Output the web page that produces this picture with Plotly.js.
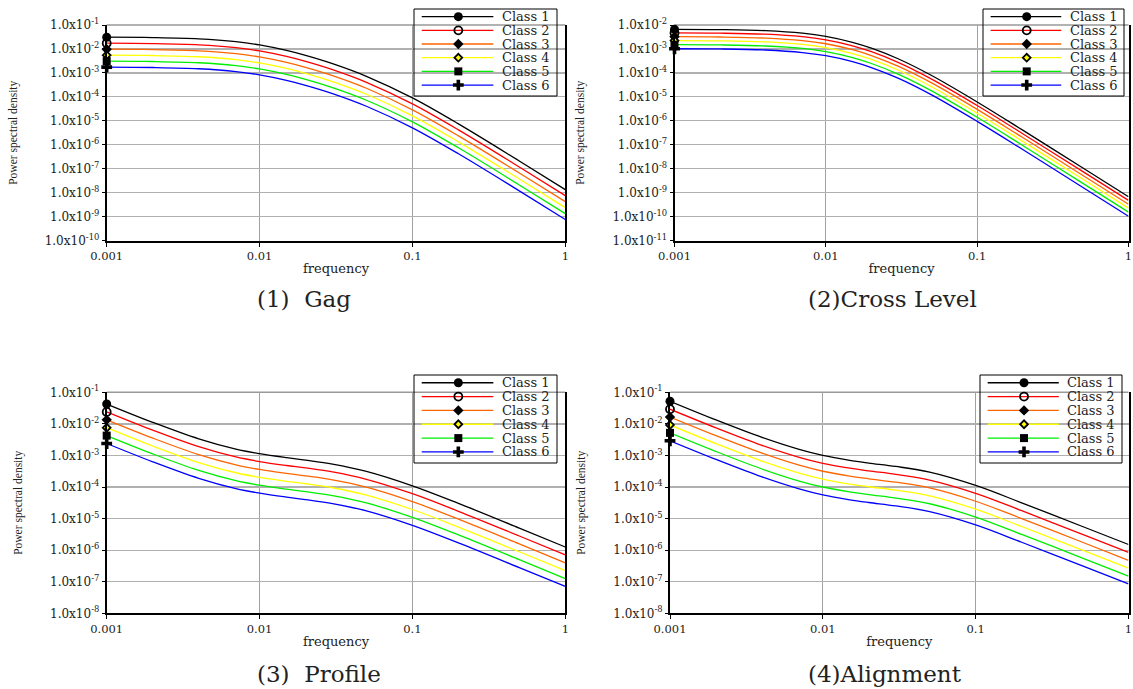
<!DOCTYPE html>
<html>
<head>
<meta charset="utf-8">
<script src="https://cdn.plot.ly/plotly-3.0.1.min.js"></script>
<style>
html,body{margin:0;padding:0;background:#fff;}
#chart{width:1133px;height:689px;}
</style>
</head>
<body>
<div id="chart"></div>
<script>
// ---------------- data ----------------
const freq = [0.001, 0.002, 0.004, 0.007, 0.01, 0.015, 0.02, 0.03, 0.05, 0.1, 0.2, 0.5, 1];
const classNames = ['Class 1', 'Class 2', 'Class 3', 'Class 4', 'Class 5', 'Class 6'];
const captions = ['(1)\u00a0\u00a0Gag', '(2)Cross Level', '(3)\u00a0\u00a0Profile', '(4)Alignment'];
const xTickVals = [0.001, 0.01, 0.1, 1];
const xTickText = ['0.001', '0.01', '0.1', '1'];
const xTitle = 'frequency';
const yTitle = 'Power spectral density';

// (1) Gag
const gag1 = [3.09e-2, 2.99e-2, 2.65e-2, 2.02e-2, 1.47e-2, 8.67e-3, 5.38e-3, 2.43e-3, 7.21e-4, 9.03e-5, 7.43e-6, 2.09e-7, 1.33e-8];
const gag2 = [1.74e-2, 1.68e-2, 1.49e-2, 1.14e-2, 8.27e-3, 4.88e-3, 3.03e-3, 1.37e-3, 4.05e-4, 5.08e-5, 4.18e-6, 1.18e-7, 7.48e-9];
const gag3 = [9.77e-3, 9.45e-3, 8.38e-3, 6.39e-3, 4.65e-3, 2.74e-3, 1.70e-3, 7.68e-4, 2.28e-4, 2.86e-5, 2.35e-6, 6.61e-8, 4.21e-9];
const gag4 = [5.49e-3, 5.32e-3, 4.71e-3, 3.59e-3, 2.61e-3, 1.54e-3, 9.57e-4, 4.32e-4, 1.28e-4, 1.61e-5, 1.32e-6, 3.72e-8, 2.36e-9];
const gag5 = [3.09e-3, 2.99e-3, 2.65e-3, 2.02e-3, 1.47e-3, 8.67e-4, 5.38e-4, 2.43e-4, 7.21e-5, 9.03e-6, 7.43e-7, 2.09e-8, 1.33e-9];
const gag6 = [1.74e-3, 1.68e-3, 1.49e-3, 1.14e-3, 8.27e-4, 4.88e-4, 3.03e-4, 1.37e-4, 4.05e-5, 5.08e-6, 4.18e-7, 1.18e-8, 7.48e-10];
const yTickValsGag = [1e-10, 1e-9, 1e-8, 1e-7, 1e-6, 1e-5, 1e-4, 1e-3, 1e-2, 1e-1];
const yTickTextGag = ['1.0x10<sup>-10</sup>', '1.0x10<sup>-9</sup>', '1.0x10<sup>-8</sup>', '1.0x10<sup>-7</sup>', '1.0x10<sup>-6</sup>', '1.0x10<sup>-5</sup>', '1.0x10<sup>-4</sup>', '1.0x10<sup>-3</sup>', '1.0x10<sup>-2</sup>', '1.0x10<sup>-1</sup>'];

// (2) Cross Level
const cross1 = [6.61e-3, 6.44e-3, 5.82e-3, 4.57e-3, 3.36e-3, 1.90e-3, 1.08e-3, 3.90e-4, 7.78e-5, 6.12e-6, 4.07e-7, 1.06e-8, 6.67e-10];
const cross2 = [4.68e-3, 4.56e-3, 4.12e-3, 3.24e-3, 2.38e-3, 1.35e-3, 7.65e-4, 2.76e-4, 5.51e-5, 4.33e-6, 2.88e-7, 7.50e-9, 4.72e-10];
const cross3 = [3.24e-3, 3.16e-3, 2.85e-3, 2.24e-3, 1.65e-3, 9.31e-4, 5.29e-4, 1.91e-4, 3.81e-5, 3.00e-6, 1.99e-7, 5.19e-9, 3.27e-10];
const cross4 = [2.24e-3, 2.18e-3, 1.97e-3, 1.55e-3, 1.14e-3, 6.44e-4, 3.66e-4, 1.32e-4, 2.64e-5, 2.07e-6, 1.38e-7, 3.59e-9, 2.26e-10];
const cross5 = [1.51e-3, 1.47e-3, 1.33e-3, 1.05e-3, 7.69e-4, 4.35e-4, 2.47e-4, 8.93e-5, 1.78e-5, 1.40e-6, 9.32e-8, 2.43e-9, 1.53e-10];
const cross6 = [1.02e-3, 9.98e-4, 9.02e-4, 7.08e-4, 5.21e-4, 2.95e-4, 1.67e-4, 6.05e-5, 1.21e-5, 9.49e-7, 6.31e-8, 1.64e-9, 1.03e-10];
const yTickValsCross = [1e-11, 1e-10, 1e-9, 1e-8, 1e-7, 1e-6, 1e-5, 1e-4, 1e-3, 1e-2];
const yTickTextCross = ['1.0x10<sup>-11</sup>', '1.0x10<sup>-10</sup>', '1.0x10<sup>-9</sup>', '1.0x10<sup>-8</sup>', '1.0x10<sup>-7</sup>', '1.0x10<sup>-6</sup>', '1.0x10<sup>-5</sup>', '1.0x10<sup>-4</sup>', '1.0x10<sup>-3</sup>', '1.0x10<sup>-2</sup>'];

// (3) Profile
const profile1 = [4.25e-2, 1.12e-2, 3.36e-3, 1.59e-3, 1.14e-3, 8.53e-4, 7.13e-4, 5.33e-4, 3.13e-4, 1.09e-4, 3.03e-5, 5.00e-6, 1.26e-6];
const profile2 = [2.39e-2, 6.30e-3, 1.89e-3, 8.94e-4, 6.41e-4, 4.80e-4, 4.01e-4, 3.00e-4, 1.76e-4, 6.13e-5, 1.70e-5, 2.81e-6, 7.08e-7];
const profile3 = [1.34e-2, 3.54e-3, 1.06e-3, 5.03e-4, 3.60e-4, 2.70e-4, 2.25e-4, 1.69e-4, 9.90e-5, 3.45e-5, 9.58e-6, 1.58e-6, 3.98e-7];
const profile4 = [7.56e-3, 1.99e-3, 5.97e-4, 2.83e-4, 2.03e-4, 1.52e-4, 1.27e-4, 9.48e-5, 5.57e-5, 1.94e-5, 5.39e-6, 8.89e-7, 2.24e-7];
const profile5 = [4.25e-3, 1.12e-3, 3.36e-4, 1.59e-4, 1.14e-4, 8.53e-5, 7.13e-5, 5.33e-5, 3.13e-5, 1.09e-5, 3.03e-6, 5.00e-7, 1.26e-7];
const profile6 = [2.39e-3, 6.30e-4, 1.89e-4, 8.94e-5, 6.41e-5, 4.80e-5, 4.01e-5, 3.00e-5, 1.76e-5, 6.13e-6, 1.70e-6, 2.81e-7, 7.08e-8];
const yTickValsProfile = [1e-8, 1e-7, 1e-6, 1e-5, 1e-4, 1e-3, 1e-2, 1e-1];
const yTickTextProfile = ['1.0x10<sup>-8</sup>', '1.0x10<sup>-7</sup>', '1.0x10<sup>-6</sup>', '1.0x10<sup>-5</sup>', '1.0x10<sup>-4</sup>', '1.0x10<sup>-3</sup>', '1.0x10<sup>-2</sup>', '1.0x10<sup>-1</sup>'];

// (4) Alignment
const align1 = [5.19e-2, 1.33e-2, 3.72e-3, 1.55e-3, 1.00e-3, 7.00e-4, 5.75e-4, 4.48e-4, 2.95e-4, 1.12e-4, 3.16e-5, 5.62e-6, 1.51e-6];
const align2 = [2.92e-2, 7.48e-3, 2.09e-3, 8.72e-4, 5.62e-4, 3.94e-4, 3.23e-4, 2.52e-4, 1.66e-4, 6.30e-5, 1.78e-5, 3.16e-6, 8.49e-7];
const align3 = [1.64e-2, 4.21e-3, 1.18e-3, 4.90e-4, 3.16e-4, 2.21e-4, 1.82e-4, 1.42e-4, 9.33e-5, 3.54e-5, 1.00e-5, 1.78e-6, 4.77e-7];
const align4 = [9.23e-3, 2.36e-3, 6.61e-4, 2.76e-4, 1.78e-4, 1.24e-4, 1.02e-4, 7.97e-5, 5.25e-5, 1.99e-5, 5.62e-6, 1.00e-6, 2.68e-7];
const align5 = [5.19e-3, 1.33e-3, 3.72e-4, 1.55e-4, 1.00e-4, 7.00e-5, 5.75e-5, 4.48e-5, 2.95e-5, 1.12e-5, 3.16e-6, 5.62e-7, 1.51e-7];
const align6 = [2.92e-3, 7.48e-4, 2.09e-4, 8.72e-5, 5.62e-5, 3.94e-5, 3.23e-5, 2.52e-5, 1.66e-5, 6.30e-6, 1.78e-6, 3.16e-7, 8.49e-8];
const yTickValsAlign = yTickValsProfile;
const yTickTextAlign = yTickTextProfile;

// ---------------- styles ----------------
const classColors = ['#000000', '#ff0000', '#ff6600', '#ffff00', '#00ee00', '#0000ff'];
function markerStyle(i) {
  const styles = [
    {symbol: 'circle', size: 9, color: '#000'},
    {symbol: 'circle-open', size: 8, color: '#000', line: {width: 1.8}},
    {symbol: 'diamond', size: 8, color: '#000'},
    {symbol: 'diamond', size: 6, color: '#ffff00', line: {color: '#000', width: 1.8}},
    {symbol: 'square', size: 8, color: '#000'},
    {symbol: 'cross', size: 9, color: '#000'}
  ];
  return styles[i];
}

const W = 1133, H = 689;
const px = x => x / W;
const py = y => 1 - y / H;

const panels = [
  {series: [gag1, gag2, gag3, gag4, gag5, gag6], tv: yTickValsGag, tt: yTickTextGag, yr: [-10, -1],
   plot: [106.7, 565.3, 25, 240.5], legend: [414, 557, 9, 96], cap: [255, 299]},
  {series: [cross1, cross2, cross3, cross4, cross5, cross6], tv: yTickValsCross, tt: yTickTextCross, yr: [-11, -2],
   plot: [674.5, 1128.5, 25, 240.5], legend: [983, 1124, 9, 96], cap: [806, 299]},
  {series: [profile1, profile2, profile3, profile4, profile5, profile6], tv: yTickValsProfile, tt: yTickTextProfile, yr: [-8, -1],
   plot: [106.7, 565.3, 392.3, 613.3], legend: [414, 557, 375, 463], cap: [255, 674]},
  {series: [align1, align2, align3, align4, align5, align6], tv: yTickValsAlign, tt: yTickTextAlign, yr: [-8, -1],
   plot: [670, 1128.5, 392.3, 613.3], legend: [980, 1122, 375, 463], cap: [806, 674]}
];

const traces = [];
const annotations = [];
const shapes = [];
const layout = {
  width: W, height: H,
  margin: {l: 0, r: 0, t: 0, b: 0},
  paper_bgcolor: '#ffffff',
  plot_bgcolor: 'rgba(0,0,0,0)',
  showlegend: false,
  font: {family: 'DejaVu Serif', color: '#222'}
};

panels.forEach((p, k) => {
  const n = k + 1, ln = k + 5;
  const xr = n === 1 ? 'x' : 'x' + n;
  const yr = n === 1 ? 'y' : 'y' + n;
  const xk = n === 1 ? 'xaxis' : 'xaxis' + n;
  const yk = n === 1 ? 'yaxis' : 'yaxis' + n;

  layout[xk] = {
    type: 'log', range: [-3, 0], domain: [px(p.plot[0]), px(p.plot[1])], anchor: yr,
    tickmode: 'array', tickvals: xTickVals, ticktext: xTickText,
    ticks: 'outside', ticklen: 4, tickwidth: 1, tickcolor: '#000',
    ticklabeloverflow: 'allow',
    showline: true, linecolor: '#000', linewidth: 2,
    showgrid: true, gridcolor: '#a0a0a0', gridwidth: 1, zeroline: false,
    tickfont: {family: 'DejaVu Serif', size: 11.5, color: '#222'},
    title: {text: xTitle, font: {family: 'DejaVu Serif', size: 13, color: '#222'}, standoff: 2},
    automargin: false, fixedrange: true
  };
  layout[yk] = {
    type: 'log', range: p.yr, domain: [py(p.plot[3]), py(p.plot[2])], anchor: xr,
    tickmode: 'array', tickvals: p.tv, ticktext: p.tt,
    ticks: 'outside', ticklen: 3, tickwidth: 1, tickcolor: '#000',
    ticklabeloverflow: 'allow',
    showline: true, linecolor: '#000', linewidth: 2, mirror: true,
    showgrid: true, gridcolor: '#b0b0b0', gridwidth: 1.3, zeroline: false,
    tickfont: {family: 'DejaVu Serif', size: 12, color: '#222'},
    title: {text: yTitle, font: {family: 'Liberation Serif', size: 11.5, color: '#222'}, standoff: 25},
    automargin: false, fixedrange: true
  };

  // top frame line
  shapes.push({type: 'line', xref: xr + ' domain', yref: yr + ' domain', x0: 0, x1: 1, y0: 1, y1: 1,
    line: {color: '#999', width: 1.5}, layer: 'below'});

  p.series.forEach((s, i) => {
    traces.push({x: freq, y: s, xaxis: xr, yaxis: yr, mode: 'lines', name: classNames[i],
      line: {color: classColors[i], width: 1.3, shape: 'spline', smoothing: 1},
      showlegend: false, hoverinfo: 'skip'});
  });
  p.series.forEach((s, i) => {
    traces.push({x: [freq[0]], y: [s[0]], xaxis: xr, yaxis: yr, mode: 'markers', name: classNames[i],
      marker: markerStyle(i), cliponaxis: false, showlegend: false, hoverinfo: 'skip'});
  });

  // legend box (drawn on an invisible overlay axis pair)
  layout['xaxis' + ln] = {domain: [px(p.legend[0]), px(p.legend[1])], range: [0, 1], anchor: 'y' + ln,
    visible: false, fixedrange: true};
  layout['yaxis' + ln] = {domain: [py(p.legend[3]), py(p.legend[2])], range: [5.8, -0.56], anchor: 'x' + ln,
    visible: false, fixedrange: true};
  shapes.push({type: 'rect', xref: 'x' + ln + ' domain', yref: 'y' + ln + ' domain', x0: 0, x1: 1, y0: 0, y1: 1,
    line: {color: '#000', width: 1}, fillcolor: 'rgba(0,0,0,0)'});
  classNames.forEach((c, i) => {
    traces.push({x: [0.054, 0.555], y: [i, i], xaxis: 'x' + ln, yaxis: 'y' + ln, mode: 'lines',
      line: {color: classColors[i], width: 1.3}, showlegend: false, hoverinfo: 'skip'});
    traces.push({x: [0.31], y: [i], xaxis: 'x' + ln, yaxis: 'y' + ln, mode: 'markers',
      marker: markerStyle(i), cliponaxis: false, showlegend: false, hoverinfo: 'skip'});
    annotations.push({xref: 'x' + ln, yref: 'y' + ln, x: 0.6, y: i, text: c, showarrow: false,
      xanchor: 'left', yanchor: 'middle', font: {family: 'DejaVu Serif', size: 13, color: '#222'}});
  });

  // caption
  annotations.push({xref: 'paper', yref: 'paper', x: px(p.cap[0]), y: py(p.cap[1]), text: captions[k],
    showarrow: false, xanchor: 'left', yanchor: 'middle', font: {family: 'DejaVu Serif', size: 23, color: '#222'}});
});

layout.annotations = annotations;
layout.shapes = shapes;

Plotly.newPlot('chart', traces, layout, {staticPlot: true, displayModeBar: false});
</script>
</body>
</html>
